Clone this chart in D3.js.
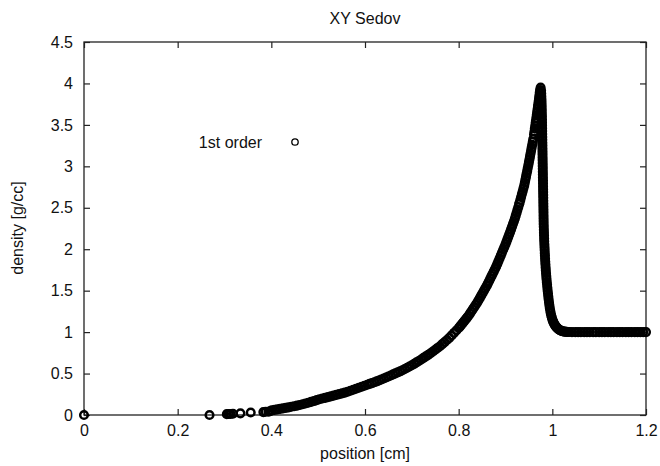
<!DOCTYPE html>
<html><head><meta charset="utf-8">
<script src="https://cdn.jsdelivr.net/npm/d3@7"></script>
<style>
html,body{margin:0;padding:0;background:#fff;}
text{font-family:"Liberation Sans",Arial,Helvetica,sans-serif;fill:#111;}
</style></head>
<body><svg id="chart" width="660" height="466"></svg>
<script>
const title = "XY Sedov";
const xLabel = "position [cm]";
const yLabel = "density [g/cc]";
const seriesName = "1st order";
const xTicks = [0, 0.2, 0.4, 0.6, 0.8, 1.0, 1.2];
const yTicks = [0, 0.5, 1, 1.5, 2, 2.5, 3, 3.5, 4, 4.5];

// sparse inner points
const innerX = [0, 0.268, 0.305, 0.309, 0.313, 0.318, 0.334, 0.356, 0.383, 0.388, 0.394, 0.397];
const innerY = [0, 0, 0.010, 0.012, 0.012, 0.015, 0.020, 0.030, 0.035, 0.040, 0.040, 0.045];

// rising part behind the shock
const riseX = [0.401,0.407,0.413,0.419,0.425,0.431,0.437,0.443,0.449,0.455,0.461,0.467,0.473,0.479,0.485,0.491,0.497,0.503,0.509,0.515,0.521,0.527,0.533,0.539,0.545,0.551,0.557,0.563,0.569,0.575,0.581,0.587,0.593,0.599,
0.605,0.610,0.615,0.620,0.625,0.630,0.635,0.640,0.645,0.650,0.655,0.660,0.665,0.670,0.675,0.680,0.685,0.690,0.695,0.700,0.705,0.710,0.715,0.720,0.725,0.730,0.735,0.740,0.745,0.750,0.755,0.760,0.765,0.770,0.775,0.780,0.785,0.790,0.795,0.800,
0.803,0.806,0.809,0.812,0.815,0.818,0.821,0.824,0.827,0.830,0.833,0.836,0.839,0.842,0.845,0.848,0.851,0.854,0.857,0.860,0.8625,0.865,0.8675,0.870,0.8725,0.875,0.8775,0.880,0.8825,0.885,0.8875,0.890,0.8925,0.895,0.8975,0.900,
0.902,0.904,0.906,0.908,0.910,0.912,0.914,0.916,0.918,0.920,0.9218,0.9237,0.9255,0.9274,0.9292,0.9300,0.9317,0.9333,0.9350,0.9367,0.9383,0.9400,
0.9413,0.9425,0.9438,0.9450,0.9463,0.9475,0.9488,0.9500,0.9512,0.9523,0.9535,0.9547,0.9558,0.9570,0.9582,0.9593,0.9609,0.9618,0.9626,0.9635,0.9644,0.9650,
0.9659,0.9668,0.9676,0.9685,0.9694,0.9700,0.9708,0.9716,0.9723,0.9731,0.9738,0.9750];
const riseY = [0.056,0.062,0.068,0.074,0.080,0.086,0.092,0.099,0.106,0.113,0.121,0.130,0.139,0.148,0.158,0.168,0.179,0.190,0.199,0.207,0.216,0.225,0.234,0.243,0.252,0.261,0.270,0.281,0.293,0.305,0.317,0.329,0.341,0.353,
0.365,0.375,0.385,0.395,0.406,0.417,0.429,0.440,0.452,0.465,0.477,0.490,0.502,0.515,0.527,0.540,0.555,0.570,0.585,0.600,0.617,0.635,0.652,0.670,0.689,0.707,0.726,0.745,0.766,0.787,0.809,0.830,0.855,0.880,0.905,0.930,0.960,0.990,1.020,1.050,
1.070,1.091,1.112,1.133,1.154,1.175,1.198,1.223,1.249,1.275,1.300,1.326,1.351,1.380,1.410,1.440,1.470,1.500,1.530,1.560,1.588,1.617,1.646,1.675,1.703,1.732,1.761,1.790,1.823,1.857,1.891,1.925,1.959,1.993,2.026,2.060,
2.090,2.120,2.150,2.180,2.210,2.242,2.274,2.306,2.338,2.370,2.405,2.440,2.475,2.510,2.545,2.560,2.595,2.630,2.665,2.700,2.735,2.770,
2.805,2.840,2.875,2.910,2.945,2.980,3.015,3.050,3.085,3.120,3.155,3.190,3.225,3.260,3.295,3.330,3.385,3.420,3.455,3.490,3.525,3.550,
3.585,3.620,3.655,3.690,3.725,3.750,3.785,3.820,3.855,3.890,3.920,3.950];

// shock front and undisturbed gas
const shockX = [0.9760,0.9763,0.9765,0.9768,0.9770,0.9772,0.9773,0.9775,0.9776,0.9778,0.9779,0.9780,0.9781,0.9782,0.9783,0.9784,0.9785,0.9786,0.9787,0.9788,0.9789,0.9790,0.9791,0.9792,0.9793,0.9794,0.9795,0.9796,0.9797,0.9798,0.9799,0.9800,0.9801,0.9802,0.9803,0.9804,0.9805,0.9806,0.9807,0.9808,0.9809,0.9810,0.9811,0.9812,0.9813,0.9814,0.9815,0.9817,0.9819,0.9821,0.9823,0.9825,0.9827,0.9830,0.9833,0.9836,0.9839,0.9842,0.9845,0.9849,0.9853,0.9857,0.9861,0.9866,0.9871,0.9876,0.9882,0.9888,0.9894,0.9900,0.9907,0.9914,0.9921,0.9929,0.9937,0.9946,0.9956,0.9966,0.9977,0.9989,1.0001,1.0014,1.0028,1.0042,1.0057,1.0072,1.0088,1.0104,1.0121,1.0138,1.0156,1.0175,1.0195,1.0215,1.0236,1.0258,1.0281,1.0305,1.0330];
const shockY = [3.915,3.880,3.845,3.810,3.775,3.740,3.705,3.670,3.635,3.600,3.565,3.530,3.495,3.460,3.425,3.390,3.355,3.320,3.285,3.250,3.215,3.180,3.145,3.110,3.075,3.040,3.005,2.970,2.935,2.900,2.865,2.830,2.795,2.760,2.725,2.690,2.655,2.620,2.585,2.550,2.515,2.480,2.445,2.410,2.375,2.340,2.305,2.270,2.235,2.200,2.165,2.130,2.095,2.060,2.025,1.990,1.955,1.920,1.885,1.850,1.815,1.780,1.745,1.710,1.675,1.640,1.605,1.570,1.535,1.500,1.465,1.430,1.395,1.360,1.325,1.290,1.258,1.228,1.200,1.175,1.152,1.132,1.114,1.098,1.084,1.071,1.060,1.050,1.041,1.033,1.026,1.020,1.015,1.011,1.008,1.006,1.004,1.003,1.002];

const ambientX = [1.036,1.042,1.049,1.055,1.061,1.068,1.074,1.080,1.087,1.093,1.100,1.106,1.112,1.119,1.125,1.131,1.138,1.144,1.150,1.157,1.163,1.169,1.176,1.182,1.188,1.194,1.200];
const ambientY = [1.001,1.000,1.000,1.000,1.000,1.000,1.000,1.000,1.000,1.000,1.000,1.000,1.000,1.000,1.000,1.000,1.000,1.000,1.000,1.000,1.000,1.000,1.000,1.000,1.000,1.000,1.000];

const positions = innerX.concat(riseX, shockX, ambientX);
const densities = innerY.concat(riseY, shockY, ambientY);
const points = positions.map((p, i) => ({x: p, y: densities[i]})).filter(d => d.y !== undefined);

const svg = d3.select("#chart");
const mLeft = 84, mRight = 646, mTop = 42, mBottom = 415;
const x = d3.scaleLinear().domain([0, 1.2]).range([mLeft, mRight]);
const y = d3.scaleLinear().domain([0, 4.5]).range([mBottom, mTop]);
const tickLen = 6;
const fs = 16;

// frame
svg.append("rect").attr("x", mLeft).attr("y", mTop).attr("width", mRight-mLeft).attr("height", mBottom-mTop)
  .attr("fill", "none").attr("stroke", "#222").attr("stroke-width", 1.3);

// axes with inward ticks
const fmt = d => String(+d.toFixed(1));
const xAxisB = d3.axisBottom(x).tickValues(xTicks).tickSize(-tickLen).tickPadding(10).tickFormat(fmt);
const xAxisT = d3.axisTop(x).tickValues(xTicks).tickSize(-tickLen).tickFormat("");
const yAxisL = d3.axisLeft(y).tickValues(yTicks).tickSize(-tickLen).tickPadding(11).tickFormat(fmt);
const yAxisR = d3.axisRight(y).tickValues(yTicks).tickSize(-tickLen).tickFormat("");

function style(g){
  g.select(".domain").remove();
  g.selectAll(".tick line").attr("stroke", "#222").attr("stroke-width", 1.2);
  g.selectAll(".tick text").attr("font-size", fs).attr("font-family", null).attr("fill", "#111");
}
svg.append("g").attr("transform", `translate(0,${mBottom})`).call(xAxisB).call(style);
svg.append("g").attr("transform", `translate(0,${mTop})`).call(xAxisT).call(style);
svg.append("g").attr("transform", `translate(${mLeft},0)`).call(yAxisL).call(style);
svg.append("g").attr("transform", `translate(${mRight},0)`).call(yAxisR).call(style);

// labels
svg.append("text").attr("x", 365).attr("y", 24).attr("text-anchor", "middle").attr("font-size", fs).text(title);
svg.append("text").attr("x", 365).attr("y", 459).attr("text-anchor", "middle").attr("font-size", fs).text(xLabel);
svg.append("text").attr("transform", "translate(23,228) rotate(-90)").attr("text-anchor", "middle").attr("font-size", fs).text(yLabel);

// data points
svg.append("g").selectAll("circle").data(points).join("circle")
  .attr("cx", d => x(d.x)).attr("cy", d => y(d.y)).attr("r", 3.8)
  .attr("fill", "none").attr("stroke", "#000").attr("stroke-width", 2.5);

// legend
svg.append("text").attr("x", 262).attr("y", 148).attr("text-anchor", "end").attr("font-size", fs).text(seriesName);
svg.append("circle").attr("cx", 295).attr("cy", 142).attr("r", 3.2)
  .attr("fill", "none").attr("stroke", "#000").attr("stroke-width", 1.3);
</script></body></html>
